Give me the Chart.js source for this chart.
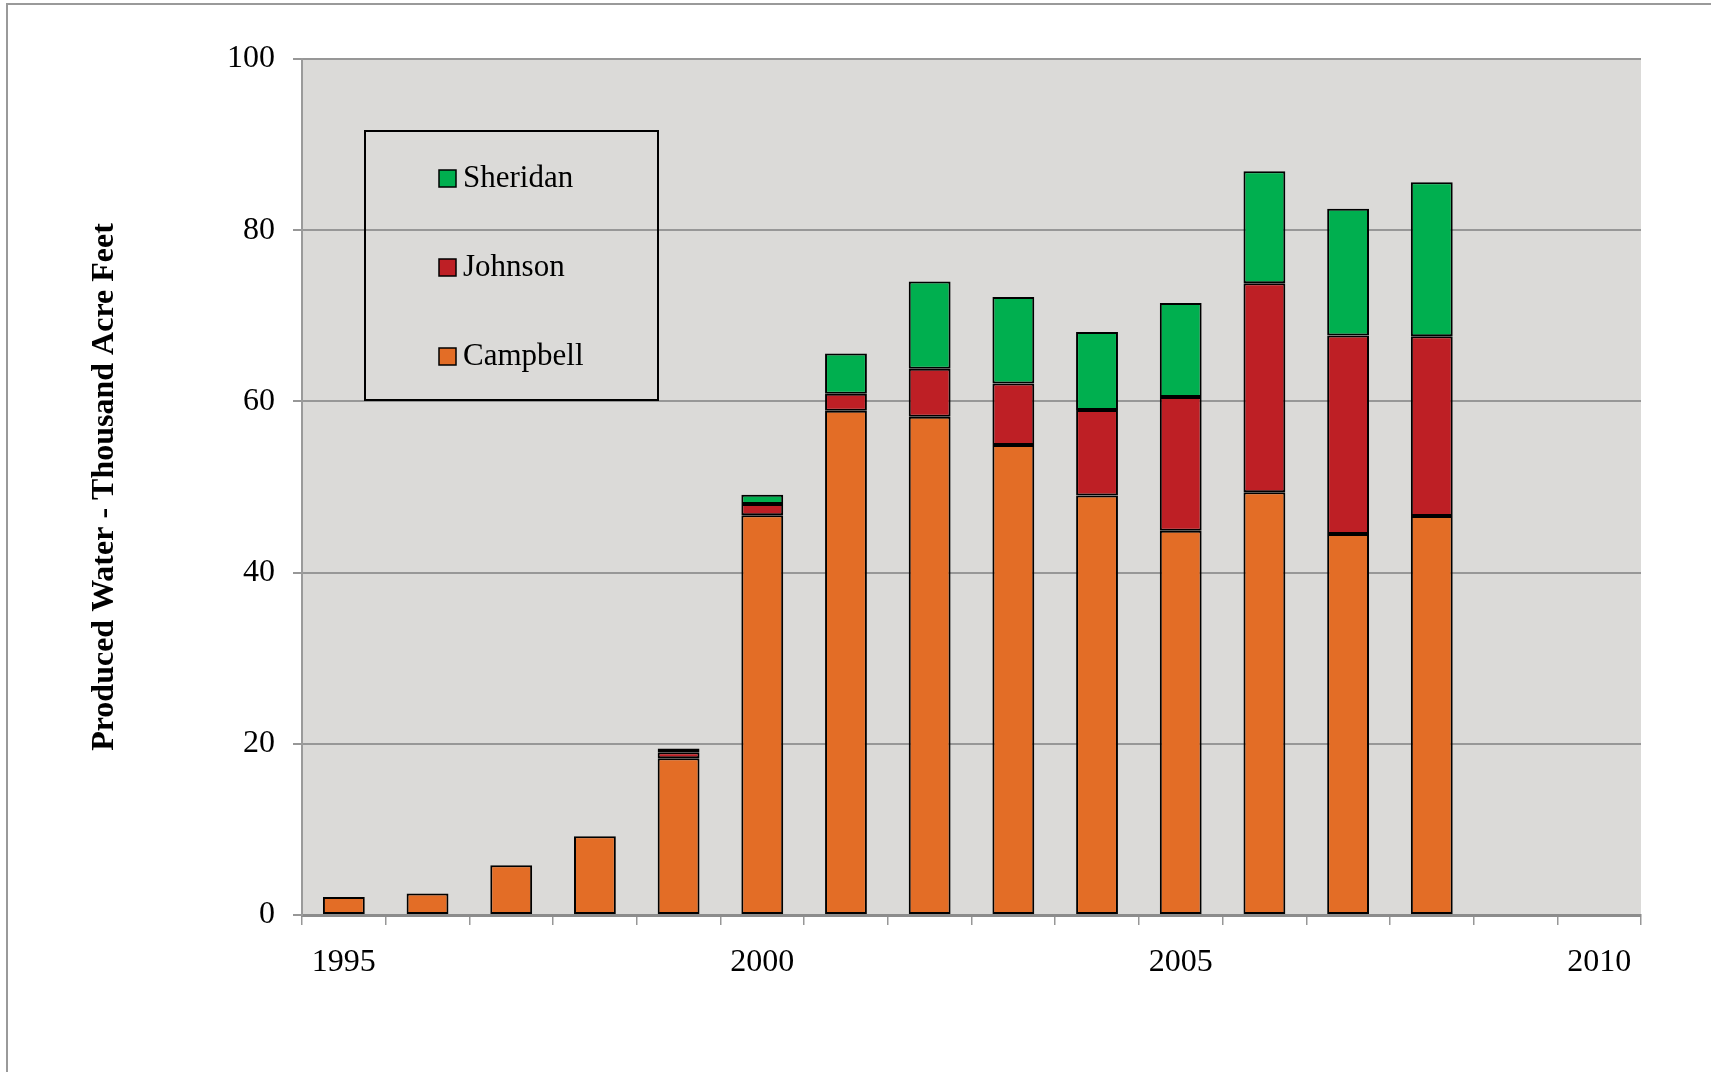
<!DOCTYPE html>
<html>
<head>
<meta charset="utf-8">
<title>Produced Water</title>
<script src="https://cdn.jsdelivr.net/npm/chart.js@4"></script>
<style>
  html, body { margin: 0; padding: 0; background: #ffffff; overflow: hidden; }
  #wrap { position: relative; width: 1711px; height: 1072px; }
  /* thin frame the original picture was cropped from */
  #frame { position: absolute; left: 6px; top: 3px; width: 1800px; height: 1200px;
           border-top: 2px solid #9a9a9a; border-left: 2px solid #9a9a9a; }
  #chart { position: absolute; left: 0; top: 0; }
</style>
</head>
<body>
<div id="wrap">
  <div id="frame"></div>
  <canvas id="chart" width="1711" height="1072"></canvas>
</div>
<script>
// Data (thousand acre feet)
const years = ['1995', '1996', '1997', '1998', '1999', '2000', '2001', '2002',
               '2003', '2004', '2005', '2006', '2007', '2008', '2009', '2010'];
const campbell = [2.1, 2.5, 5.8, 9.2, 18.3, 46.7, 58.9, 58.2, 54.9, 49.0, 44.9, 49.4, 44.5, 46.6, null, null];
const johnson  = [null, null, null, null, 0.7, 1.3, 2.0, 5.6, 7.2, 10.0, 15.6, 24.4, 23.2, 21.0, null, null];
const sheridan = [null, null, null, null, 0.45, 1.1, 4.7, 10.2, 10.1, 9.1, 11.0, 13.1, 14.8, 18.0, null, null];
const yTicks = [0, 20, 40, 60, 80, 100];

const colours = {
  campbell: '#e36d26',
  johnson: '#be1f25',
  sheridan: '#00af4f',
  plot: '#dbdad8',
  grid: '#979797',
};
const serif = "'Liberation Serif', 'Times New Roman', serif";

// Fill the plot area with the grey background
const plotBackground = {
  id: 'plotBackground',
  beforeDraw(chart) {
    const { ctx, chartArea: a } = chart;
    ctx.save();
    ctx.fillStyle = colours.plot;
    ctx.fillRect(a.left, a.top, a.right - a.left, a.bottom - a.top);
    ctx.restore();
  },
};

// Boxed legend sitting inside the plot, top series first
const boxLegend = {
  id: 'boxLegend',
  afterDraw(chart) {
    const { ctx, chartArea: a } = chart;
    const x = a.left + 63, y = a.top + 72, w = 293, h = 269;
    ctx.save();
    ctx.strokeStyle = '#000';
    ctx.lineWidth = 2;
    ctx.strokeRect(x, y, w, h);
    const items = chart.data.datasets.slice().reverse();
    ctx.font = '31px ' + serif;
    ctx.textBaseline = 'middle';
    items.forEach((ds, i) => {
      const cy = y + 47 + i * 89;
      ctx.fillStyle = ds.backgroundColor;
      ctx.fillRect(x + 74, cy - 8, 17, 17);
      ctx.lineWidth = 1.5;
      ctx.strokeStyle = '#000';
      ctx.strokeRect(x + 74, cy - 8, 17, 17);
      ctx.fillStyle = '#000';
      ctx.fillText(ds.label, x + 98, cy + 1);
    });
    ctx.restore();
  },
};

const barStyle = {
  borderColor: '#000',
  borderWidth: 2,
  borderSkipped: false,
  categoryPercentage: 1.0,
  barPercentage: 0.5,
};

new Chart(document.getElementById('chart'), {
  type: 'bar',
  data: {
    labels: years,
    datasets: [
      { label: 'Campbell', data: campbell, backgroundColor: colours.campbell, ...barStyle },
      { label: 'Johnson', data: johnson, backgroundColor: colours.johnson, ...barStyle },
      { label: 'Sheridan', data: sheridan, backgroundColor: colours.sheridan, ...barStyle },
    ],
  },
  options: {
    responsive: false,
    animation: false,
    layout: { padding: { left: 0, top: 59, right: 70, bottom: 0 } },
    plugins: {
      legend: { display: false },
      tooltip: { enabled: false },
    },
    scales: {
      x: {
        stacked: true,
        grid: { drawOnChartArea: false, color: colours.grid, lineWidth: 1.5, tickLength: 10 },
        border: { color: '#8c8c8c', width: 3 },
        ticks: {
          autoSkip: false,
          maxRotation: 0,
          padding: 18,
          color: '#000',
          font: { family: serif, size: 32 },
          callback: function (value, index) {
            const y = parseInt(years[index], 10);
            return y % 5 === 0 ? years[index] : '';
          },
        },
        afterFit: (s) => { s.height = 157; },
      },
      y: {
        stacked: true,
        min: 0,
        max: 100,
        afterBuildTicks: (s) => { s.ticks = yTicks.map(v => ({ value: v })); },
        grid: { color: colours.grid, lineWidth: 2, tickLength: 9 },
        border: { color: '#9a9a9a', width: 2 },
        ticks: {
          padding: 18,
          color: '#000',
          font: { family: serif, size: 32 },
        },
        title: {
          display: true,
          text: 'Produced Water - Thousand Acre Feet',
          color: '#000',
          font: { family: serif, size: 32, weight: 'bold' },
          padding: { top: 86, bottom: 0 },
        },
        afterFit: (s) => { s.width = 302; },
      },
    },
  },
  plugins: [plotBackground, boxLegend],
});
</script>
</body>
</html>
